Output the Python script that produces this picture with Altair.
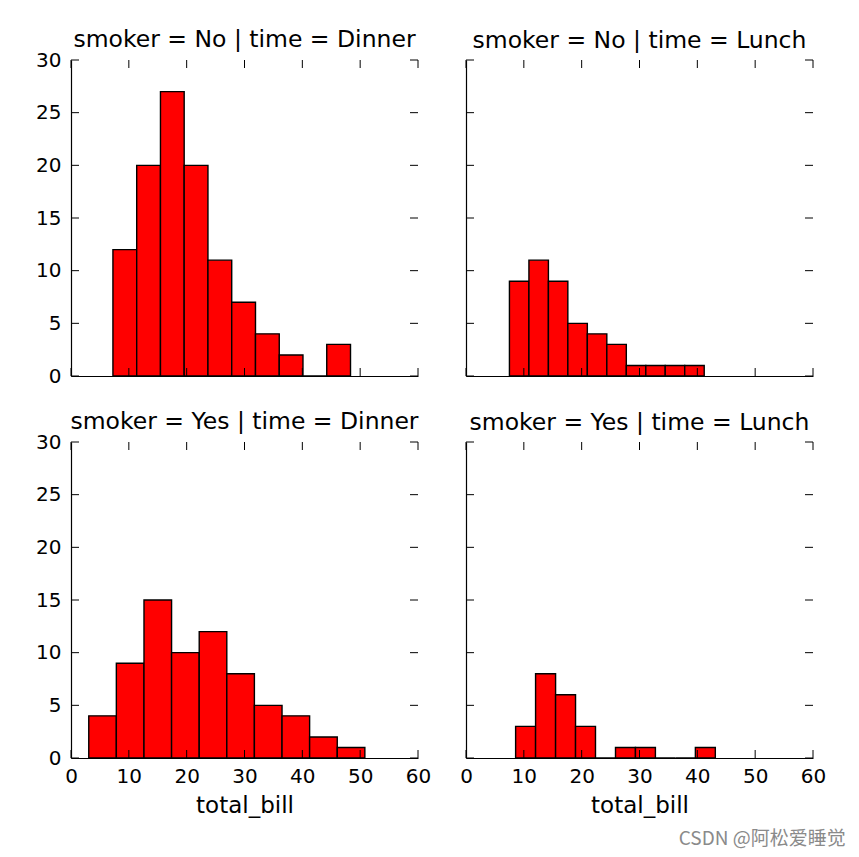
import altair as alt
import pandas as pd

# ---- data ----
titles = [
    "smoker = No | time = Dinner",
    "smoker = No | time = Lunch",
    "smoker = Yes | time = Dinner",
    "smoker = Yes | time = Lunch",
]
edges_no_dinner = [7.25, 11.36, 15.47, 19.57, 23.68, 27.79, 31.90, 36.01, 40.11, 44.22, 48.33]
counts_no_dinner = [12, 20, 27, 20, 11, 7, 4, 2, 0, 3]
edges_no_lunch = [7.51, 10.88, 14.25, 17.61, 20.98, 24.35, 27.72, 31.09, 34.45, 37.82, 41.19]
counts_no_lunch = [9, 11, 9, 5, 4, 3, 1, 1, 1, 1]
edges_yes_dinner = [3.07, 7.84, 12.62, 17.39, 22.17, 26.94, 31.71, 36.49, 41.26, 46.04, 50.81]
counts_yes_dinner = [4, 9, 15, 10, 12, 8, 5, 4, 2, 1]
edges_yes_lunch = [8.58, 12.03, 15.49, 18.94, 22.39, 25.85, 29.30, 32.75, 36.21, 39.66, 43.11]
counts_yes_lunch = [3, 8, 6, 3, 0, 1, 1, 0, 0, 1]
x_ticks = [0, 10, 20, 30, 40, 50, 60]
y_ticks = [0, 5, 10, 15, 20, 25, 30]
x_label = "total_bill"
watermark = "CSDN @阿松爱睡觉"

W, H = 347, 316
TL = 8
FONT = "DejaVu Sans"

xscale = alt.Scale(domain=[0, 60], nice=False, zero=False)
yscale = alt.Scale(domain=[0, 30], nice=False)


def panel(title, edges, counts, show_x, show_y):
    df = pd.DataFrame({"x0": edges[:-1], "x1": edges[1:], "count": counts})
    xt = pd.DataFrame({"t": x_ticks})
    yt = pd.DataFrame({"t": y_ticks})
    xaxis = alt.Axis(values=x_ticks, labels=show_x, ticks=False, tickSize=0, grid=False,
                     domain=True, domainColor="black", domainWidth=1.2, labelFlush=False,
                     title=x_label if show_x else "", labelFontSize=20, titleFontSize=23,
                     labelPadding=8, titlePadding=8, minExtent=0, labelColor="black",
                     titleColor="black", titleFontWeight="normal", labelFont=FONT, titleFont=FONT)
    yaxis = alt.Axis(values=y_ticks, labels=show_y, ticks=False, tickSize=0, grid=False,
                     domain=True, domainColor="black", domainWidth=1.2, title="",
                     labelFlush=False, labelFontSize=20, labelPadding=10, minExtent=0,
                     labelColor="black", labelFont=FONT)
    bars = alt.Chart(df).mark_rect(color="#ff0000", stroke="black", strokeWidth=1.4).encode(
        x=alt.X("x0:Q", scale=xscale, axis=xaxis),
        x2="x1:Q",
        y=alt.Y("count:Q", scale=yscale, axis=yaxis),
        y2=alt.datum(0),
    )
    rule = dict(color="black", strokeWidth=1)
    bottom = alt.Chart(xt).mark_rule(**rule).encode(
        x=alt.X("t:Q", scale=xscale, axis=xaxis), y=alt.value(H), y2=alt.value(H - TL))
    top = alt.Chart(xt).mark_rule(**rule).encode(
        x=alt.X("t:Q", scale=xscale, axis=xaxis), y=alt.value(0), y2=alt.value(TL))
    left = alt.Chart(yt).mark_rule(**rule).encode(
        y=alt.Y("t:Q", scale=yscale, axis=yaxis), x=alt.value(0), x2=alt.value(TL))
    right = alt.Chart(yt).mark_rule(**rule).encode(
        y=alt.Y("t:Q", scale=yscale, axis=yaxis), x=alt.value(W), x2=alt.value(W - TL))
    # left-column titles sit above the "30" label's extent; pull them back down
    off = -1 if show_y else 7
    return alt.layer(bars, bottom, top, left, right).properties(
        width=W, height=H,
        title=alt.TitleParams(title, fontSize=23.5, font=FONT, fontWeight="normal",
                              color="black", offset=off, frame="group", anchor="middle"),
    )


p1 = panel(titles[0], edges_no_dinner, counts_no_dinner, False, True)
p2 = panel(titles[1], edges_no_lunch, counts_no_lunch, False, False)
p3 = panel(titles[2], edges_yes_dinner, counts_yes_dinner, True, True)
p4 = panel(titles[3], edges_yes_lunch, counts_yes_lunch, True, False)

chart = alt.concat(
    p1, p2, p3, p4,
    columns=2,
    spacing=alt.RowColnumber(row=66, column=48),
    bounds="flush",
).properties(
    padding={"left": 27, "top": 19, "right": 0, "bottom": 3},
    background="white",
    title=alt.TitleParams(watermark, orient="bottom", anchor="end", fontSize=19,
                          font="Noto Sans CJK SC", color="#8a8a8a", fontWeight="normal",
                          offset=13, dx=20),
).configure_view(stroke=None)

chart.save("out.html", embed_options={"renderer": "svg", "actions": False})
